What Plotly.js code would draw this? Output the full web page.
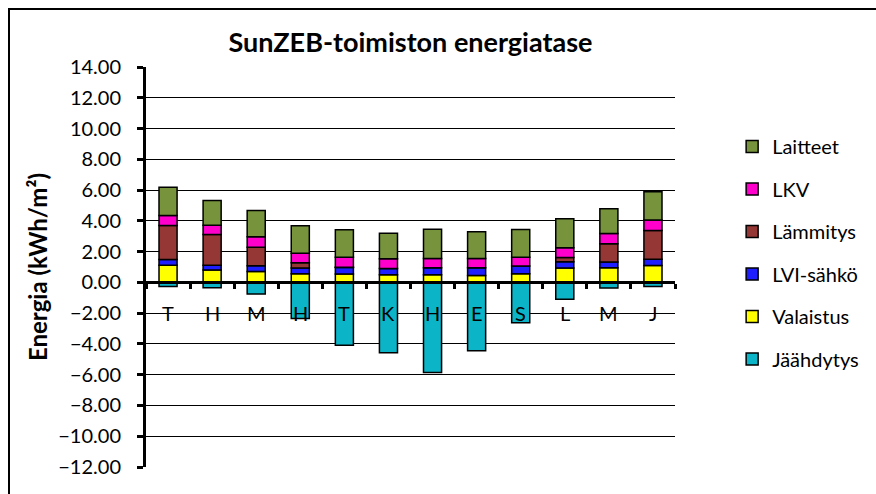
<!DOCTYPE html>
<html>
<head>
<meta charset="utf-8">
<script src="https://cdn.plot.ly/plotly-3.0.1.min.js"></script>
<style>
html,body{margin:0;padding:0;background:#fff;overflow:hidden;}
#chart{position:absolute;left:0;top:0;width:876px;height:494px;}
#frame{position:absolute;left:8px;top:8px;width:1000px;height:1000px;border-left:2px solid #000;border-top:2px solid #000;pointer-events:none;}
</style>
</head>
<body>
<div id="chart"></div>
<div id="frame"></div>
<script>
// Month labels (Finnish initials)
const monthLabels = ['T','H','M','H','T','K','H','E','S','L','M','J'];
const monthIndex = [0,1,2,3,4,5,6,7,8,9,10,11];

// Series values, kWh/m2
const valaistus  = [1.12, 0.80, 0.71, 0.56, 0.54, 0.50, 0.50, 0.45, 0.56, 0.93, 0.95, 1.10];
const lviSahko   = [0.37, 0.32, 0.37, 0.37, 0.43, 0.41, 0.45, 0.50, 0.50, 0.41, 0.37, 0.41];
const lammitys   = [2.21, 2.00, 1.21, 0.35, 0.02, 0.00, 0.00, 0.00, 0.00, 0.28, 1.19, 1.87];
const lkv        = [0.65, 0.60, 0.68, 0.62, 0.65, 0.63, 0.61, 0.61, 0.58, 0.63, 0.67, 0.67];
const laitteet   = [1.84, 1.60, 1.71, 1.78, 1.78, 1.66, 1.90, 1.73, 1.80, 1.89, 1.60, 1.84];
const jaahdytys  = [-0.26, -0.35, -0.76, -2.34, -4.09, -4.57, -5.86, -4.44, -2.62, -1.10, -0.37, -0.26];

const seriesNames = ['Jäähdytys','Valaistus','LVI-sähkö','Lämmitys','LKV','Laitteet'];
const seriesData  = [jaahdytys, valaistus, lviSahko, lammitys, lkv, laitteet];
const seriesColors = ['#0BB4C6','#FFFF00','#1E1EFF','#953735','#FF00CC','#77933C'];
const legendRanks = [6, 5, 4, 3, 2, 1];

const yTicks = [-12,-10,-8,-6,-4,-2,0,2,4,6,8,10,12,14];
const xBoundaries = [-0.5,0.5,1.5,2.5,3.5,4.5,5.5,6.5,7.5,8.5,9.5,10.5,11.5];
const labelLevel = -2;

const FONT = 'Lato, "Open Sans", sans-serif';

const traces = seriesNames.map((name, i) => ({
  type: 'bar',
  name: name,
  x: monthIndex,
  y: seriesData[i],
  legendgroup: 'g' + i,
  legendrank: legendRanks[i],
  marker: {color: seriesColors[i], line: {color: '#000', width: 1.5}},
  hoverinfo: 'y+name'
}));

const annotations = monthLabels.map((t, i) => ({
  x: monthIndex[i], y: labelLevel, xref: 'x', yref: 'y',
  text: t, showarrow: false,
  font: {family: FONT, size: 20, color: '#000'}
}));

const layout = {
  width: 876, height: 494,
  margin: {l: 146, r: 198, t: 67, b: 27},
  paper_bgcolor: '#fff', plot_bgcolor: '#fff',
  barmode: 'relative',
  bargap: 0.59,
  showlegend: true,
  font: {family: FONT, color: '#000'},
  title: {
    text: '<b>SunZEB-toimiston energiatase</b>',
    x: 0.5, xref: 'paper', xanchor: 'center',
    y: 0.913, yref: 'container', yanchor: 'middle',
    font: {family: FONT, size: 27, color: '#000'}
  },
  xaxis: {
    type: 'linear',
    range: [-0.5, 11.5],
    anchor: 'free',
    position: 12/26,
    showline: true, linecolor: '#000', linewidth: 3,
    ticks: 'outside', ticklen: 5, tickwidth: 3, tickcolor: '#000',
    tickmode: 'array', tickvals: xBoundaries,
    showticklabels: false,
    showgrid: false, zeroline: false,
    fixedrange: true
  },
  yaxis: {
    range: [-12, 14],
    tickmode: 'array', tickvals: yTicks,
    tickformat: '.2f',
    showline: true, linecolor: '#000', linewidth: 3,
    ticks: 'outside', ticklen: 6, tickwidth: 3, tickcolor: '#000',
    ticklabelstandoff: 12,
    showgrid: true, gridcolor: '#000', gridwidth: 1,
    zeroline: false,
    tickfont: {family: FONT, size: 20, color: '#000'},
    title: {
      text: '<b>Energia (kWh/m²)</b>',
      font: {family: FONT, size: 24, color: '#000'},
      standoff: 4
    },
    fixedrange: true
  },
  legend: {
    x: 1.108, xanchor: 'left',
    y: 0.85, yanchor: 'top',
    traceorder: 'grouped',
    tracegroupgap: 13.5,
    font: {family: FONT, size: 20, color: '#000'},
    bgcolor: 'rgba(0,0,0,0)'
  },
  annotations: annotations
};

Plotly.newPlot('chart', traces, layout, {displayModeBar: false, staticPlot: true});
</script>
</body>
</html>
